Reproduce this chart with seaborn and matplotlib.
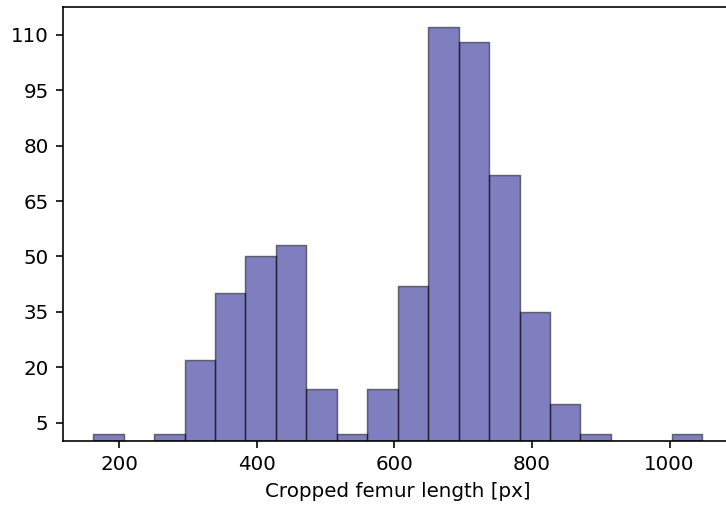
import numpy as np
import pandas as pd
import matplotlib
matplotlib.use("Agg")
import matplotlib.pyplot as plt
import seaborn as sns

# Histogram of cropped femur lengths: 20 equal-width bins
bin_lo = 162.2
bin_hi = 1047.6
n_bins = 20
counts = [2, 0, 2, 22, 40, 50, 53, 14, 2, 14,
          42, 112, 108, 72, 35, 10, 2, 0, 0, 2]
x_ticks = [200, 400, 600, 800, 1000]
y_ticks = [5, 20, 35, 50, 65, 80, 95, 110]
x_label = "Cropped femur length [px]"

edges = np.linspace(bin_lo, bin_hi, n_bins + 1)
centers = (edges[:-1] + edges[1:]) / 2
df = pd.DataFrame({"length": centers, "count": counts})

sns.set_style("ticks")
plt.rcParams["font.family"] = ["DejaVu Sans"]
plt.rcParams["text.color"] = "black"
plt.rcParams["axes.labelcolor"] = "black"
plt.rcParams["xtick.color"] = "black"
plt.rcParams["ytick.color"] = "black"
plt.rcParams["axes.edgecolor"] = "black"

fig = plt.figure(figsize=(726 / 130, 505 / 130), dpi=130)
ax = fig.add_axes([62.7 / 726, 63.8 / 505, 670 / 726, 434.5 / 505])

sns.histplot(data=df, x="length", weights="count",
             bins=n_bins, binrange=(bin_lo, bin_hi),
             color="navy", alpha=0.5, edgecolor=(0, 0, 0, 0.5),
             linewidth=0.8, ax=ax)

width = bin_hi - bin_lo
ax.set_xlim(bin_lo - 0.05 * width, bin_hi + 0.05 * width)
ax.set_ylim(0, max(counts) * 1.05)
ax.set_xticks(x_ticks)
ax.set_yticks(y_ticks)
ax.tick_params(labelsize=11, length=3.9, width=0.9, pad=3.9, direction="out")
for s in ax.spines.values():
    s.set_linewidth(0.9)
    s.set_visible(True)
ax.set_xlabel(x_label, fontsize=11, labelpad=4.4)
ax.set_ylabel("")

fig.savefig("out.png", dpi=130)
